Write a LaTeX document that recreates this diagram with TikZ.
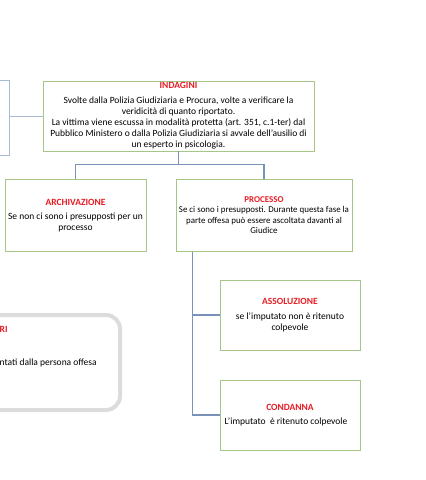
\documentclass[tikz,border=0pt]{standalone}
\usepackage{fontspec}
\setmainfont{Carlito}
\usetikzlibrary{calc}

\definecolor{verdebordo}{RGB}{166,198,136}
\definecolor{bluelinea}{RGB}{122,146,184}
\definecolor{bluechiaro}{RGB}{170,188,212}
\definecolor{rosso}{RGB}{232,28,36}
\definecolor{grigiobordo}{RGB}{220,220,220}
\newcommand{\titolo}[1]{{\color{rosso}\bfseries #1}}

\begin{document}
\begin{tikzpicture}[x=1pt, y=-1pt,
  fase/.style={draw=verdebordo, line width=0.9pt, fill=white, inner sep=0pt, align=center,
    font=\fontsize{9.5}{11}\selectfont},
  link/.style={draw=bluelinea, line width=1.2pt}]

\useasboundingbox (0,0) rectangle (426,480);

% Cut-off box on the left
\node[draw=bluechiaro, line width=0.9pt, minimum width=70pt, minimum height=75pt] (vittima) at (-26,117.5) {};

% Main phase: investigations
\node[fase, minimum width=271pt, minimum height=70pt] (indagini) at (178.5,116)
  {\titolo{INDAGINI}\\[4pt]
   Svolte dalla Polizia Giudiziaria e Procura, volte a verificare la\\
   veridicità di quanto riportato.\\
   La vittima viene escussa in modalità protetta (art. 351, c.1-ter) dal\\
   Pubblico Ministero o dalla Polizia Giudiziaria si avvale dell'ausilio di\\
   un esperto in psicologia.};

% Outcomes of the investigations
\node[fase, minimum width=141pt, minimum height=72pt] (archiviazione) at (75.5,215.5)
  {\titolo{ARCHIVAZIONE}\\[3pt]
   Se non ci sono i presupposti per un\\
   processo};
\node[fase, minimum width=176pt, minimum height=72pt, font=\fontsize{8.9}{10.5}\selectfont] (processo) at (264,215.5)
  {\titolo{PROCESSO}\\[-0.5pt]
   Se ci sono i presupposti. Durante questa fase la\\
   parte offesa può essere ascoltata davanti al\\
   Giudice};

% Outcomes of the trial
\node[fase, minimum width=140pt, minimum height=70pt] (assoluzione) at (290,315)
  {\titolo{ASSOLUZIONE}\\[4pt]
   se l’imputato non è ritenuto\\
   colpevole};
\node[fase, minimum width=140pt, minimum height=70pt] (condanna) at (290,415)
  {\titolo{CONDANNA}\\[3pt]
   \hspace*{-8pt}L’imputato\ \ è ritenuto colpevole};

% Connectors
\draw[bluechiaro, line width=1pt] (indagini.west -| vittima.east) -- (indagini.west);
\coordinate (snodo) at ($(indagini.south)+(0,13)$);
\draw[link] (indagini.south) -- (snodo);
\draw[link] (snodo) -| (archiviazione.north);
\draw[link] (snodo) -| (processo.north);
\coordinate (ramo) at ($(processo.south west)+(17,0)$);
\draw[link] (ramo) |- (assoluzione.west);
\draw[link] (ramo) |- (condanna.west);

% Cut-off rounded box on the left
\draw[grigiobordo, line width=4pt, fill=white, rounded corners=14pt] (-40,315) rectangle (120,410);
\node[anchor=west, inner sep=0pt, font=\fontsize{9.5}{11}\selectfont] (ri) at (-0.5,329) {\titolo{RI}};
\node[anchor=west, inner sep=0pt, font=\fontsize{9.5}{11}\selectfont] (offesa) at (-0.5,363) {ntati dalla persona offesa};

\end{tikzpicture}
\end{document}
